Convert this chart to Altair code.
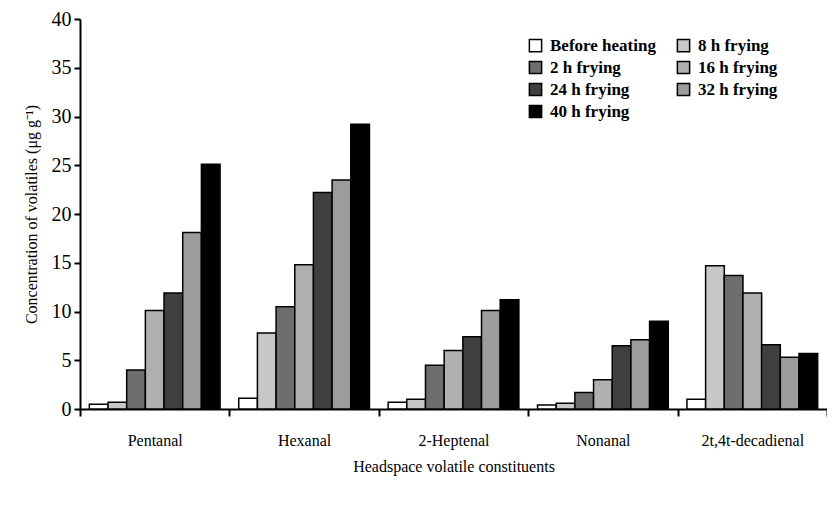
import altair as alt
import pandas as pd

compounds = ["Pentanal", "Hexanal", "2-Heptenal", "Nonanal", "2t,4t-decadienal"]
series = ["Before heating", "8 h frying", "2 h frying", "16 h frying",
          "24 h frying", "32 h frying", "40 h frying"]
colors = ["#ffffff", "#c8c8c8", "#6e6e6e", "#b0b0b0", "#404040", "#9c9c9c", "#000000"]

before_heating = [0.5, 1.1, 0.7, 0.4, 1.0]
h8 = [0.7, 7.8, 1.0, 0.6, 14.7]
h2 = [4.0, 10.5, 4.5, 1.7, 13.7]
h16 = [10.1, 14.8, 6.0, 3.0, 11.9]
h24 = [11.9, 22.2, 7.4, 6.5, 6.6]
h32 = [18.1, 23.5, 10.1, 7.1, 5.3]
h40 = [25.1, 29.2, 11.2, 9.0, 5.7]

values = [before_heating, h8, h2, h16, h24, h32, h40]
rows = []
for s, vals in zip(series, values):
    for c, v in zip(compounds, vals):
        rows.append({"compound": c, "series": s, "value": v})
df = pd.DataFrame(rows)

font = "Liberation Serif"

chart = alt.Chart(df).mark_bar(stroke="black", strokeWidth=1.5).encode(
    x=alt.X("compound:N", sort=compounds,
            scale=alt.Scale(paddingInner=0, paddingOuter=0),
            axis=alt.Axis(title="Headspace volatile constituents", labelAngle=0,
                          tickBand="extent", tickSize=7, tickWidth=2, tickColor="black",
                          domainColor="black", domainWidth=2,
                          labelFont=font, labelFontSize=16, labelColor="black",
                          labelPadding=16,
                          titleFont=font, titleFontSize=16, titleFontWeight="normal",
                          titleColor="black", titlePadding=10)),
    xOffset=alt.XOffset("series:N", sort=series,
                        scale=alt.Scale(paddingInner=0, paddingOuter=0.5)),
    y=alt.Y("value:Q",
            scale=alt.Scale(domain=[0, 40], nice=False),
            axis=alt.Axis(title="Concentration of  volatiles (μg g⁻¹)",
                          values=[0, 5, 10, 15, 20, 25, 30, 35, 40],
                          grid=False, tickSize=6, tickWidth=2, tickColor="black",
                          domainColor="black", domainWidth=2,
                          labelFont=font, labelFontSize=20, labelColor="black",
                          labelPadding=3,
                          titleFont=font, titleFontSize=16, titleFontWeight="normal",
                          titleColor="black", titlePadding=12)),
    color=alt.Color("series:N", sort=series,
                    scale=alt.Scale(domain=series, range=colors),
                    legend=alt.Legend(title=None, orient="none", legendX=447, legendY=18,
                                      direction="horizontal",
                                      columns=2, columnPadding=18, rowPadding=3,
                                      symbolType="square", symbolSize=150,
                                      symbolStrokeColor="black", symbolStrokeWidth=1.5,
                                      labelFont=font, labelFontSize=17,
                                      labelFontWeight="bold", labelColor="black",
                                      labelOffset=6)),
).properties(
    width=747, height=390,
    autosize=alt.AutoSizeParams(type="none"),
    padding={"left": 72, "top": 11, "right": 0, "bottom": 80},
).configure_view(stroke=None)

chart.save("out.html", embed_options={"renderer": "svg", "actions": False})
